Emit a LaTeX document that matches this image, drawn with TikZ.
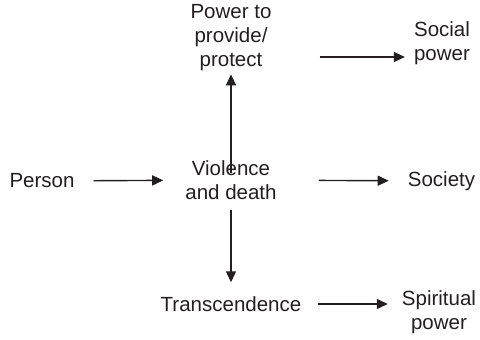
\documentclass[tikz,border=0pt]{standalone}
\usepackage{fontspec}
\setmainfont{Liberation Sans}
\usepackage{tikz}
\usepackage{xcolor}
\usetikzlibrary{arrows.meta,positioning}
\definecolor{ink}{HTML}{231F20}
\tikzset{
  termnode/.style={
    text=ink, align=center, inner sep=0pt,
    font=\fontsize{20.5}{24}\selectfont
  },
  flowarrow/.style={
    -{Triangle[length=11pt, width=10pt]}, line width=1.4pt, color=ink
  },
}

\begin{document}
\begin{tikzpicture}[x=1pt, y=-1pt]
  \useasboundingbox (0,0) rectangle (480,340);
  % Middle column
  \node[termnode] (power) at (231,38) {Power to\\provide/\\protect};
  \node[termnode] (violence) at (231,180) {Violence\\and death};
  \node[termnode] (transc) at (231,304) {Transcendence};

  % Left and right
  \node[termnode] (person) at (42,181) {Person};
  \node[termnode] (social) at (442,43) {Social\\power};
  \node[termnode] (society) at (441.5,181) {Society};
  \node[termnode] (spiritual) at (439,312) {Spiritual\\power};

  % Arrows
  \draw[flowarrow, shorten <=19pt, shorten >=22pt] (person) -- (violence);
  \draw[flowarrow, shorten <=42pt, shorten >=19pt] (violence) -- (society);
  \draw[flowarrow, shorten <=-13pt, shorten >=3pt] (violence) -- (power);
  \draw[flowarrow, shorten <=10pt, shorten >=14pt] (violence) -- (transc);
  \draw[flowarrow, shorten <=48pt, shorten >=9pt] ([yshift=-19pt]power.east) -- ([yshift=-14pt]social.west);
  \draw[flowarrow, shorten <=17pt, shorten >=14pt] (transc.east) -- ([yshift=8pt]spiritual.west);
\end{tikzpicture}
\end{document}
